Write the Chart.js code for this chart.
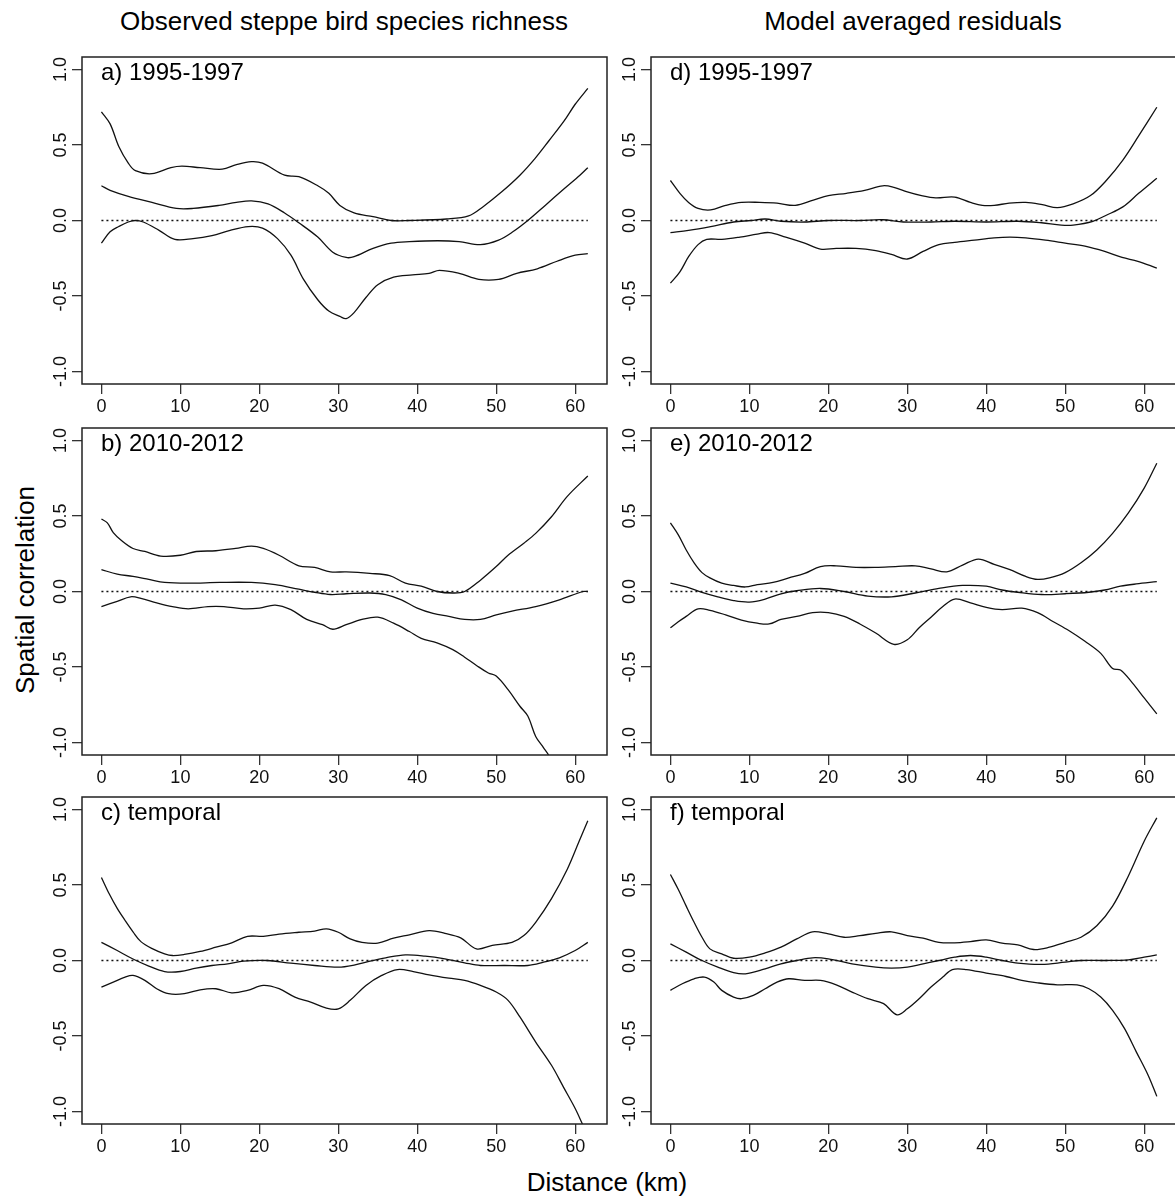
<!DOCTYPE html>
<html>
<head>
<meta charset="utf-8">
<script src="https://cdn.jsdelivr.net/npm/chart.js@4.4.1/dist/chart.umd.min.js"></script>
<style>
  html, body { margin: 0; padding: 0; width: 1175px; height: 1198px; overflow: hidden; background: #fff; }
  body { position: relative; font-family: 'Liberation Sans', Arial, sans-serif; color: #000; }
  canvas { position: absolute; }
  .txt { position: absolute; white-space: nowrap; line-height: 1; }
</style>
</head>
<body>
<div class="txt" style="left:344px;top:21px;font-size:26px;transform:translate(-50%,-50%)">Observed steppe bird species richness</div>
<div class="txt" style="left:913px;top:21px;font-size:26px;transform:translate(-50%,-50%)">Model averaged residuals</div>
<div class="txt" style="left:25px;top:590px;font-size:26px;transform:translate(-50%,-50%) rotate(-90deg)">Spatial correlation</div>
<div class="txt" style="left:607px;top:1182px;font-size:26px;transform:translate(-50%,-50%)">Distance (km)</div>
<script>
// tick labels
const xTicks = [0, 10, 20, 30, 40, 50, 60];
const yTicks = [-1, -0.5, 0, 0.5, 1];

// dotted reference line at zero
const zeroLine = [[0, 0], [61.6, 0]];

// a) observed, 1995-1997
const aUpper = [[0,0.72],[1.1,0.64],[2.2,0.49],[3.4,0.38],[4.3,0.33],[6.4,0.31],[8.8,0.35],[10.2,0.36],[12.5,0.35],[15.3,0.34],[17.1,0.37],[19,0.39],[20.4,0.38],[23.2,0.30],[25,0.29],[27.4,0.23],[28.8,0.18],[30.2,0.10],[32,0.05],[34.4,0.025],[36.7,0.0],[39,0.0],[43.7,0.01],[46.5,0.03],[48.3,0.09],[50.7,0.19],[53,0.30],[54.9,0.41],[56.7,0.53],[58.6,0.66],[60,0.77],[61.6,0.875]];
const aMid = [[0,0.23],[1.1,0.20],[3.4,0.16],[6.4,0.12],[9.5,0.08],[11.6,0.08],[14.9,0.10],[17.1,0.12],[19,0.13],[21.1,0.11],[23.2,0.05],[25,-0.015],[27.4,-0.11],[29.3,-0.21],[31,-0.245],[32,-0.24],[34.4,-0.185],[36.7,-0.15],[39,-0.14],[42.6,-0.134],[45.3,-0.14],[48,-0.16],[50.3,-0.13],[52.1,-0.075],[54,0],[56.2,0.10],[58.6,0.21],[60.6,0.30],[61.6,0.35]];
const aLower = [[0,-0.15],[1.1,-0.075],[2.2,-0.04],[3.4,-0.01],[4.3,0.0],[5.3,-0.01],[7.3,-0.065],[9.3,-0.125],[11.6,-0.12],[14,-0.10],[16.3,-0.065],[18.6,-0.04],[20.4,-0.05],[22.3,-0.12],[24,-0.23],[25.6,-0.39],[27.4,-0.525],[28.8,-0.60],[30.2,-0.635],[31,-0.65],[32,-0.61],[33.5,-0.51],[35,-0.425],[37,-0.375],[39.4,-0.36],[41.5,-0.35],[42.8,-0.33],[45.3,-0.35],[47.8,-0.39],[50.3,-0.39],[52.6,-0.35],[55.2,-0.32],[57.7,-0.27],[60,-0.23],[61.6,-0.22]];

// b) observed, 2010-2012
const bUpper = [[0,0.48],[0.75,0.455],[1.5,0.39],[2.5,0.34],[4,0.285],[5.5,0.265],[7.5,0.235],[10,0.24],[12,0.265],[14.5,0.27],[17,0.285],[19,0.30],[20.5,0.285],[22.5,0.24],[25,0.17],[27,0.16],[29,0.13],[31,0.13],[34,0.12],[36.5,0.105],[38.5,0.055],[40.5,0.035],[42.5,0.0],[44.5,-0.01],[46,0.0],[48,0.075],[50,0.165],[51.5,0.24],[53.5,0.32],[55,0.385],[57,0.495],[59,0.63],[61.6,0.765]];
const bMid = [[0,0.145],[2,0.115],[4,0.10],[6,0.08],[8,0.06],[11,0.055],[15,0.06],[19,0.06],[22,0.045],[25,0.015],[27,-0.005],[29,-0.02],[31,-0.015],[34,-0.01],[36,-0.02],[38,-0.055],[40,-0.11],[42,-0.145],[44,-0.165],[46,-0.185],[48,-0.185],[50,-0.155],[52,-0.13],[55,-0.10],[58,-0.055],[61,0.0],[61.6,0.0]];
const bLower = [[0,-0.10],[2,-0.065],[3.7,-0.035],[5,-0.045],[7,-0.075],[9,-0.10],[11,-0.115],[13.5,-0.10],[15.5,-0.10],[18,-0.115],[20,-0.11],[22,-0.09],[24,-0.12],[26,-0.185],[28,-0.22],[29.3,-0.25],[31,-0.22],[33,-0.185],[35,-0.17],[37,-0.21],[39,-0.265],[40.5,-0.31],[42.5,-0.34],[44.5,-0.385],[46,-0.435],[47.5,-0.49],[49,-0.54],[50,-0.56],[51.5,-0.65],[53,-0.76],[54,-0.825],[55,-0.96],[56,-1.035],[56.6,-1.08],[57,-1.12]];

// c) observed, temporal
const cUpper = [[0,0.55],[1,0.44],[2,0.345],[3,0.265],[4,0.19],[5,0.125],[6.5,0.077],[8,0.044],[9,0.033],[10.5,0.04],[12.5,0.06],[14.5,0.088],[16.5,0.117],[18.5,0.16],[20.5,0.16],[22.5,0.175],[25,0.187],[27,0.195],[28.5,0.21],[30,0.187],[31.5,0.143],[33,0.12],[35,0.115],[37,0.148],[39,0.17],[41.5,0.198],[43.5,0.18],[45.5,0.15],[47.5,0.077],[49.5,0.10],[52,0.12],[53.5,0.165],[55,0.253],[57,0.41],[59,0.605],[60.5,0.79],[61.6,0.925]];
const cMid = [[0,0.12],[2,0.066],[4,0.01],[6,-0.037],[8,-0.073],[10,-0.073],[12,-0.05],[14,-0.033],[16,-0.022],[18,-0.004],[21,0.0],[24,-0.018],[27,-0.033],[30,-0.044],[32,-0.03],[34,-0.004],[36,0.018],[38.5,0.037],[41,0.029],[43.5,0.011],[46,-0.015],[48,-0.033],[51,-0.033],[54,-0.033],[56,-0.011],[58,0.018],[60,0.066],[61.6,0.12]];
const cLower = [[0,-0.176],[1.5,-0.143],[3,-0.11],[4,-0.099],[5.5,-0.132],[7,-0.187],[8.5,-0.22],[10.5,-0.22],[12.5,-0.194],[14.5,-0.187],[16.5,-0.214],[18.5,-0.198],[20.5,-0.165],[22.5,-0.187],[24.5,-0.242],[26.5,-0.275],[28.5,-0.315],[30,-0.32],[31.5,-0.264],[33.5,-0.165],[35.5,-0.099],[37.5,-0.06],[39.5,-0.073],[41.5,-0.095],[44,-0.117],[46,-0.132],[48,-0.165],[50,-0.209],[51.5,-0.264],[53,-0.374],[55,-0.54],[57,-0.694],[58.5,-0.837],[60,-0.98],[60.8,-1.07],[61.2,-1.12]];

// d) residuals, 1995-1997
const dUpper = [[0,0.265],[1.2,0.18],[2.3,0.12],[3.5,0.08],[5.1,0.07],[7,0.10],[9,0.12],[11.3,0.12],[13.5,0.115],[15.8,0.10],[18.1,0.135],[20,0.165],[22.3,0.18],[24.6,0.20],[26.9,0.23],[28.3,0.22],[30,0.19],[31.8,0.165],[33.6,0.15],[36,0.155],[38,0.12],[39.5,0.10],[41,0.10],[42.9,0.115],[45,0.12],[47.1,0.105],[49,0.085],[51,0.11],[53.2,0.165],[55.2,0.265],[57.3,0.40],[59.3,0.56],[61.6,0.75]];
const dMid = [[0,-0.08],[2.3,-0.065],[5.1,-0.04],[8,-0.01],[10.2,0.0],[12,0.01],[14,-0.005],[17,-0.01],[20,0.0],[24,0.0],[26.9,0.005],[29.5,-0.01],[33,-0.01],[36,-0.005],[40,-0.01],[44,-0.005],[47,-0.015],[49.5,-0.03],[51,-0.03],[53.5,-0.005],[55.2,0.035],[57.3,0.09],[59.3,0.18],[61.6,0.28]];
const dLower = [[0,-0.415],[1.2,-0.34],[2.3,-0.24],[3.5,-0.16],[4.6,-0.125],[6.5,-0.125],[8.8,-0.11],[11,-0.09],[12.5,-0.08],[14.6,-0.11],[17,-0.15],[19,-0.19],[21,-0.185],[23.5,-0.185],[26,-0.20],[28,-0.225],[30,-0.255],[32,-0.205],[34,-0.16],[36,-0.145],[38.5,-0.13],[41,-0.115],[43,-0.11],[45,-0.115],[47.5,-0.13],[50,-0.15],[52.5,-0.17],[55,-0.205],[57.2,-0.245],[59.2,-0.27],[61.6,-0.315]];

// e) residuals, 2010-2012
const eUpper = [[0,0.455],[1,0.375],[2,0.275],[3,0.19],[4,0.125],[5,0.09],[6.5,0.055],[8,0.04],[9.5,0.03],[11,0.045],[13,0.06],[15,0.09],[17,0.12],[19,0.165],[21,0.17],[23.5,0.16],[26,0.16],[28.5,0.165],[31,0.17],[33,0.15],[35,0.13],[37,0.175],[39,0.215],[41,0.18],[43,0.145],[45,0.10],[46.5,0.08],[48,0.09],[50,0.125],[52,0.19],[54,0.275],[56,0.385],[58,0.52],[60,0.685],[61.6,0.85]];
const eMid = [[0,0.055],[2,0.03],[4,-0.005],[6,-0.035],[8,-0.06],[10,-0.07],[12,-0.05],[14,-0.015],[16,0.005],[19,0.02],[22,0.0],[25,-0.03],[28,-0.035],[31,-0.01],[34,0.02],[37,0.04],[40,0.035],[42,0.01],[44,-0.005],[47,-0.02],[50,-0.015],[53,-0.005],[55,0.01],[57,0.035],[59,0.05],[61.6,0.065]];
const eLower = [[0,-0.24],[1,-0.20],[2,-0.165],[3.5,-0.115],[5,-0.125],[7,-0.155],[9,-0.19],[11,-0.21],[12.5,-0.215],[14,-0.185],[16,-0.165],[18,-0.14],[20,-0.14],[22,-0.165],[24,-0.215],[26,-0.275],[28.3,-0.35],[30,-0.32],[31.5,-0.24],[33,-0.17],[34.5,-0.10],[36,-0.05],[38,-0.075],[40,-0.105],[42,-0.12],[44.5,-0.11],[46.5,-0.14],[48.5,-0.20],[50.5,-0.26],[52.5,-0.33],[54.5,-0.41],[56,-0.51],[57,-0.52],[58.5,-0.605],[60,-0.705],[61.6,-0.81]];

// f) residuals, temporal
const fUpper = [[0,0.57],[1,0.47],[2,0.36],[3,0.253],[4,0.154],[5,0.077],[6.5,0.044],[8,0.015],[10,0.022],[12,0.05],[14,0.088],[16,0.143],[18,0.19],[20,0.176],[22,0.154],[24,0.165],[26,0.18],[28,0.19],[30,0.165],[32,0.148],[34,0.12],[36,0.117],[38,0.125],[40,0.137],[42,0.115],[44,0.103],[46,0.073],[48,0.088],[50,0.12],[52,0.154],[54,0.23],[56,0.36],[58,0.56],[60,0.79],[61.6,0.945]];
const fMid = [[0,0.11],[2,0.055],[4,0.0],[6,-0.044],[8,-0.08],[9.5,-0.088],[12,-0.055],[14,-0.022],[16,0.0],[18,0.018],[20,0.011],[23,-0.022],[26,-0.044],[28,-0.05],[30,-0.044],[32,-0.022],[34,0.0],[36,0.022],[38,0.033],[40,0.022],[42,0.0],[44,-0.018],[47,-0.026],[50,-0.011],[52,0.0],[55,0.0],[58,0.004],[60,0.022],[61.6,0.037]];
const fLower = [[0,-0.198],[1.5,-0.154],[3,-0.121],[4.3,-0.11],[5.5,-0.143],[6.5,-0.198],[8,-0.242],[9,-0.253],[10.5,-0.231],[12,-0.187],[13.5,-0.143],[15,-0.121],[17,-0.132],[19,-0.132],[21,-0.161],[23,-0.209],[25,-0.253],[27,-0.286],[28.7,-0.36],[30,-0.32],[31.5,-0.253],[33,-0.176],[34.5,-0.11],[35.7,-0.06],[37.5,-0.06],[40,-0.084],[42.5,-0.106],[44.5,-0.132],[46.5,-0.148],[49,-0.161],[51.5,-0.161],[53,-0.187],[54.5,-0.242],[56,-0.33],[57.5,-0.45],[59,-0.605],[60.5,-0.76],[61.6,-0.9]];

const panels = [
  { label: 'a) 1995-1997', col: 0, row: 0, lines: [aUpper, aMid, aLower] },
  { label: 'b) 2010-2012', col: 0, row: 1, lines: [bUpper, bMid, bLower] },
  { label: 'c) temporal',  col: 0, row: 2, lines: [cUpper, cMid, cLower] },
  { label: 'd) 1995-1997', col: 1, row: 0, lines: [dUpper, dMid, dLower] },
  { label: 'e) 2010-2012', col: 1, row: 1, lines: [eUpper, eMid, eLower] },
  { label: 'f) temporal',  col: 1, row: 2, lines: [fUpper, fMid, fLower] }
];

// plot box geometry (page pixels)
const colLeft = [82, 651];
const rowTop = [57, 428, 797];
const boxW = 525, boxH = 327;
const padL = 60, padT = 25, padR = 15, padB = 50;

const fontFam = "'Liberation Sans', Arial, Helvetica, sans-serif";

const framePlugin = {
  id: 'frame',
  afterDraw(chart) {
    const a = chart.chartArea, ctx = chart.ctx;
    ctx.save();
    ctx.strokeStyle = '#222';
    ctx.lineWidth = 1.5;
    ctx.strokeRect(a.left, a.top, a.right - a.left, a.bottom - a.top);
    ctx.restore();
  }
};

function toXY(pts) {
  return pts.map(p => ({ x: p[0], y: p[1] }));
}

function makePanel(p) {
  const left = colLeft[p.col], top = rowTop[p.row];
  const cv = document.createElement('canvas');
  cv.width = padL + boxW + padR;
  cv.height = padT + boxH + padB;
  cv.style.left = (left - padL) + 'px';
  cv.style.top = (top - padT) + 'px';
  document.body.appendChild(cv);

  const lab = document.createElement('div');
  lab.className = 'txt';
  lab.style.left = (left + 19) + 'px';
  lab.style.top = (top + 15) + 'px';
  lab.style.fontSize = '24px';
  lab.style.transform = 'translate(0,-50%)';
  lab.textContent = p.label;
  document.body.appendChild(lab);

  const datasets = p.lines.map(l => ({
    data: toXY(l),
    borderColor: '#111',
    borderWidth: 1.3,
    pointRadius: 0,
    tension: 0.35,
    fill: false
  }));
  datasets.push({
    data: toXY(zeroLine),
    borderColor: '#111',
    borderWidth: 1.5,
    borderDash: [2, 3],
    pointRadius: 0,
    fill: false
  });

  const gridOpts = { drawOnChartArea: false, drawTicks: true, tickLength: 10, color: '#333', lineWidth: 1.3 };

  new Chart(cv, {
    type: 'line',
    data: { datasets: datasets },
    options: {
      responsive: false,
      animation: false,
      layout: { padding: { left: 0, top: padT, right: padR, bottom: 0 } },
      plugins: { legend: { display: false }, tooltip: { enabled: false } },
      scales: {
        x: {
          type: 'linear',
          min: -2.46,
          max: 64.03,
          afterBuildTicks: s => { s.ticks = xTicks.map(v => ({ value: v })); },
          afterFit: s => { s.height = padB; },
          grid: gridOpts,
          border: { display: false },
          ticks: {
            font: { family: fontFam, size: 18 },
            color: '#111',
            padding: 2,
            maxRotation: 0,
            autoSkip: false,
            callback: v => String(v)
          }
        },
        y: {
          type: 'linear',
          min: -1.083,
          max: 1.083,
          afterBuildTicks: s => { s.ticks = yTicks.map(v => ({ value: v })); },
          afterFit: s => { s.width = padL; },
          grid: gridOpts,
          border: { display: false },
          ticks: {
            font: { family: fontFam, size: 18 },
            color: '#111',
            padding: -5,
            minRotation: 90,
            maxRotation: 90,
            crossAlign: 'center',
            autoSkip: false,
            callback: v => v.toFixed(1)
          }
        }
      }
    },
    plugins: [framePlugin]
  });
}

panels.forEach(makePanel);
</script>
</body>
</html>
